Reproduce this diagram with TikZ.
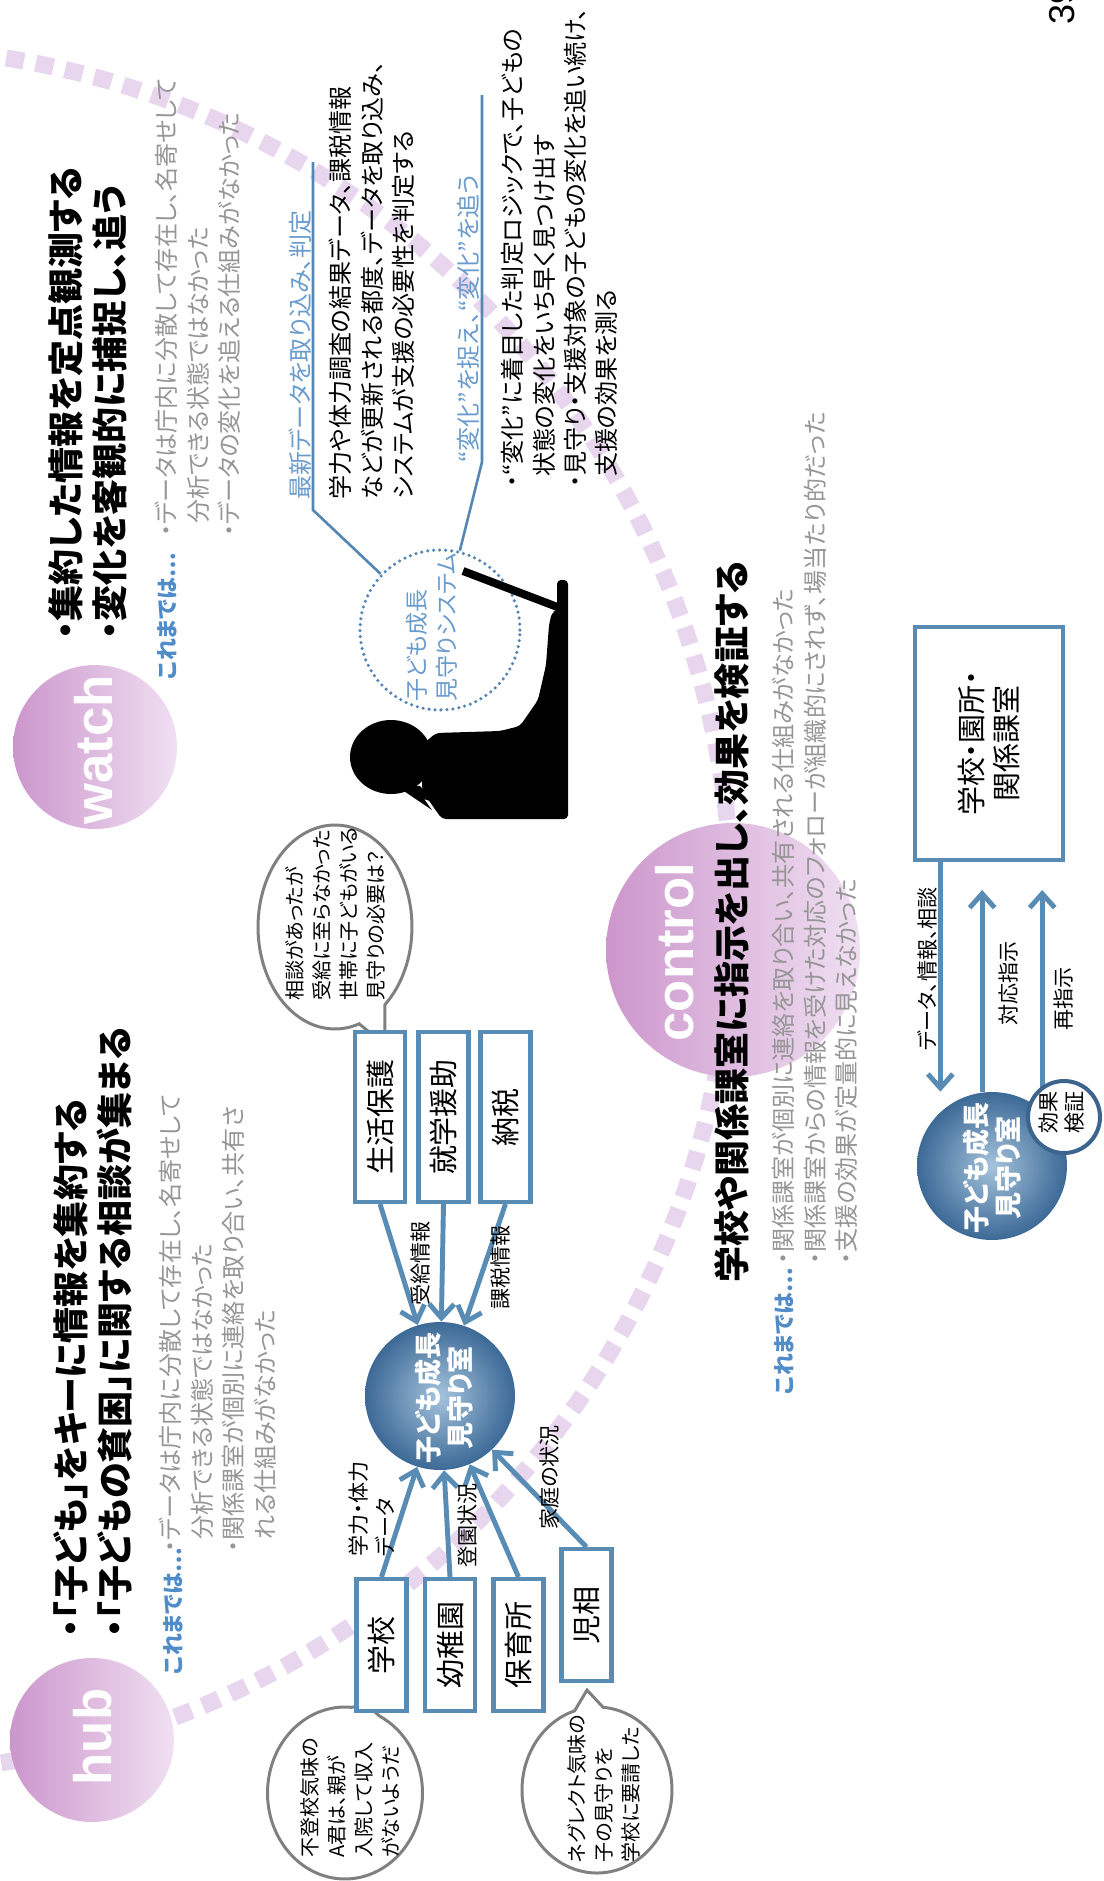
\documentclass[tikz,border=0pt]{standalone}
\usepackage{fontspec}
\setmainfont{Noto Sans CJK JP}[RawFeature=+palt]
\newfontfamily\latinfont{Liberation Sans}
\usetikzlibrary{arrows.meta,calc,shapes.geometric,shapes.callouts}

\definecolor{boxblue}{RGB}{88,140,180}
\definecolor{lineblue}{RGB}{85,135,180}
\definecolor{labelblue}{RGB}{105,155,205}
\definecolor{noteblue}{RGB}{80,140,200}
\definecolor{greytext}{RGB}{150,150,150}
\definecolor{pinkdark}{RGB}{204,150,204}
\definecolor{pinklight}{RGB}{240,224,242}
\definecolor{dashpink}{RGB}{232,214,238}
\definecolor{balldark}{RGB}{60,105,150}
\definecolor{balllight}{RGB}{165,195,220}
\definecolor{bubblegrey}{RGB}{128,128,128}
\definecolor{kkblue}{RGB}{60,100,140}

\newcommand{\fHead}{\bfseries\fontsize{20.5}{25.3}\selectfont}
\newcommand{\fBody}{\fontsize{13.7}{17.9}\selectfont}
\newcommand{\fNote}{\bfseries\fontsize{12.5}{15}\selectfont}
\newcommand{\fLabel}{\fontsize{12}{15.4}\selectfont}
\newcommand{\fBox}{\fontsize{16.5}{20}\selectfont}
\newcommand{\fBubble}{\fontsize{11.4}{15.4}\selectfont}
\newcommand{\fBall}{\bfseries\fontsize{15.4}{18.2}\selectfont}
\newcommand{\fSys}{\fontsize{13.1}{17}\selectfont}
\newcommand{\fKk}{\fontsize{12}{14.8}\selectfont}
\newcommand{\fTag}{\latinfont\bfseries\fontsize{30}{30}\selectfont}

\tikzset{
  rot/.style={rotate=90, inner sep=0pt},
  heading/.style={rot, anchor=north west, align=left, font=\fHead},
  untilnow/.style={rot, anchor=west, text=noteblue, font=\fNote},
  oldtext/.style={rot, anchor=north west, align=left, text=greytext, font=\fBody},
  bodytext/.style={rot, anchor=north west, align=left, font=\fBody},
  calltag/.style={rot, anchor=west, text=labelblue, font=\fBody},
  phase/.style={circle, minimum size=#1, inner sep=0pt, left color=pinkdark, right color=pinklight},
  tag/.style={rot, text=white, font=\fTag},
  srcbox/.style={rot, draw=boxblue, line width=2.3pt, fill=white, font=\fBox, minimum width=#1, minimum height=1cm},
  ball/.style={ellipse, minimum width=3cm, minimum height=2.96cm, inner sep=0pt, inner color=balllight, outer color=balldark},
  balltext/.style={rot, align=center, text=white, font=\fBall},
  flow/.style={draw=boxblue, line width=2.8pt, -{Straight Barb[length=0.28cm,width=0.5cm]}},
  flowlabel/.style={rot, anchor=west, font=\fLabel},
  bubble/.style={ellipse callout, draw=bubblegrey, line width=1.7pt, fill=white, inner sep=0pt, callout pointer arc=22},
  bubbletext/.style={rot, anchor=north west, align=left, font=\fBubble},
  leader/.style={draw=lineblue, line width=1.5pt},
}

\begin{document}
\begin{tikzpicture}[x=0.02cm, y=-0.02cm]
\useasboundingbox (0,0) rectangle (1104,1881);
\clip (0,0) rectangle (1104,1881);

% big dashed ring through hub and control
\draw[dashpink, line width=0.34cm, dash pattern=on 0.36cm off 0.24cm] (-131,910) circle[radius=17.26cm];

% the three phases
\node[phase=3.28cm] (hubC) at (92,1740) {};
\node[phase=3.28cm] (watchC) at (95,747) {};
\node[phase=5.08cm] (ctrlC) at (733,950) {};
\node[tag] (hubT) at (93,1737) {hub};
\node[tag] (watchT) at (94,750) {watch};
\node[tag] (ctrlT) at (675,952) {control};

% headings
\node[heading] (watchH) at (48,640) {・集約した情報を定点観測する\\・変化を客観的に捕捉し、追う};
\node[heading] (hubH) at (53,1638) {・「子ども」をキーに情報を集約する\\・「子どもの貧困」に関する相談が集まる};
\node[heading] (ctrlH) at (714,1283) {学校や関係課室に指示を出し、効果を検証する};

% how it was before
\node[untilnow] (watchN) at (167,680) {これまでは…};
\node[untilnow] (hubN) at (173,1675) {これまでは…};
\node[untilnow] (ctrlN) at (784,1395) {これまでは…};
\node[oldtext] (watchO) at (155,537) {・データは庁内に分散して存在し、名寄せして\\\hspace*{0.55em}分析できる状態ではなかった\\・データの変化を追える仕組みがなかった};
\node[oldtext] (hubO) at (159,1553) {・データは庁内に分散して存在し、名寄せして\\\hspace*{0.55em}分析できる状態ではなかった\\・関係課室が個別に連絡を取り合い、共有さ\\\hspace*{0.55em}れる仕組みがなかった};
\node[oldtext] (ctrlO) at (772,1265) {・関係課室が個別に連絡を取り合い、共有される仕組みがなかった\\・関係課室からの情報を受けた対応のフォローが組織的にされず、場当たり的だった\\・支援の効果が定量的に見えなかった};

% watch: system and its two callouts
\node[circle, draw=lineblue, line width=2pt, dash pattern=on 0pt off 0.12cm, line cap=round, minimum size=3.2cm, inner sep=0pt] (sysC) at (440,630) {};
\node[rot, anchor=north west, align=left, text=labelblue, font=\fSys] (sysT) at (406,702) {子ども成長\\見守りシステム};
\node[calltag] (newTag) at (300,500) {最新データを取り込み、判定};
\node[bodytext] (newBody) at (329,500) {学力や体力調査の結果データ、課税情報\\などが更新される都度、データを取り込み、\\システムが支援の必要性を判定する};
\node[calltag] (chgTag) at (468,463) {“変化”を捉え、“変化”を追う};
\node[bodytext] (chgBody) at (501,488) {・“変化”に着目した判定ロジックで、子どもの\\\hspace*{0.45em}状態の変化をいち早く見つけ出す\\・見守り・支援対象の子どもの変化を追い続け、\\\hspace*{0.45em}支援の効果を測る};
\coordinate (newTop) at (313,162);
\coordinate (newBend) at (313,510);
\coordinate (chgTop) at (482,95);
\coordinate (chgBend) at (482,462);
\draw[leader] (newTop) -- (newBend) -- (sysC);
\draw[leader] (chgTop) -- (chgBend) -- (sysC);

% person at the laptop
\fill (391,757) ellipse[x radius=0.82cm, y radius=0.74cm];
\fill (395,785) -- (432,810) -- (424,799) -- (436,803) -- (420,786) -- cycle;
\fill[rounded corners=0.08cm] (422,745) -- (436,733) -- (500,731) -- (520,726) -- (538,700) -- (546,665) -- (549,625) -- (552,612) -- (557,611) -- (557,580) -- (568,580) -- (568,819) -- (442,819) -- (432,805) -- (422,790) -- cycle;
\draw[line width=0.16cm] (463,571) -- (560,608);

% hub: sources around the office
\node[bubble, minimum width=3.08cm, minimum height=4.08cm, callout absolute pointer={(385,1045)}] (askB) at (335,927) {};
\node[bubbletext] (askT) at (285,1001) {相談があったが\\受給に至らなかった\\世帯に子どもがいる\\見守りの必要は？};
\node[bubble, minimum width=3.1cm, minimum height=3.44cm, callout absolute pointer={(367,1705)}] (absB) at (345,1793) {};
\node[bubbletext] (absT) at (300,1858) {不登校気味の\\A君は、親が\\入院して収入\\がないようだ};
\node[bubble, minimum width=3cm, minimum height=3.32cm, callout absolute pointer={(587,1690)}] (negB) at (597,1790) {};
\node[bubbletext] (negT) at (567,1863) {ネグレクト気味の\\子の見守りを\\学校に要請した};

\node[srcbox=3.4cm] (seiho) at (380,1117) {生活保護};
\node[srcbox=3.4cm] (shugaku) at (443.5,1117) {就学援助};
\node[srcbox=3.4cm] (nozei) at (505.5,1117) {納税};
\node[srcbox=2.64cm] (gakko) at (381.5,1645) {学校};
\node[srcbox=2.64cm] (yochien) at (450,1645) {幼稚園};
\node[srcbox=2.64cm] (hoiku) at (518.5,1645) {保育所};
\node[srcbox=2.64cm] (jiso) at (586.5,1615) {児相};

\node[ball] (hubS) at (440,1396) {};
\node[balltext] (hubST) at (444,1398) {子ども成長\\見守り室};

\draw[flow] (seiho.west) -- (hubS);
\draw[flow] (shugaku.west) -- (hubS);
\draw[flow] (nozei.west) -- (hubS);
\draw[flow] (gakko.east) -- (hubS);
\draw[flow] (yochien.east) -- (hubS);
\draw[flow] (hoiku.east) -- (hubS);
\draw[flow] (jiso.east) -- (hubS);

\node[flowlabel] (lblJukyu) at (420,1306) {受給情報};
\node[flowlabel] (lblKazei) at (500,1310) {課税情報};
\node[rot, anchor=north west, align=left, font=\fLabel] (lblGaku) at (348,1557) {学力・体力\\データ};
\node[flowlabel] (lblToen) at (467,1568) {登園状況};
\node[flowlabel] (lblKatei) at (550,1530) {家庭の状況};

% control: office, schools and the feedback loop
\node[rot, draw=boxblue, line width=2.3pt, fill=white, font=\fBox, align=center, minimum width=4.66cm, minimum height=2.96cm] (gk) at (989,743.5) {学校・園所・\\関係課室};
\node[ball] (ctrlS) at (992,1166) {};
\node[balltext] (ctrlST) at (992,1168) {子ども成長\\見守り室};

\coordinate (dIn) at ($(gk.north west)!0.18!(gk.south west)$);
\coordinate (rIn) at ($(gk.north west)!0.455!(gk.south west)$);
\coordinate (rrIn) at ($(gk.north west)!0.85!(gk.south west)$);
\draw[flow] (dIn) -- (dIn |- ctrlS.north);
\draw[flow] (rIn |- ctrlS.north) -- ([yshift=-0.56cm]rIn);
\draw[flow] (rrIn |- ctrlS.north) -- ([yshift=-0.56cm]rrIn);

\node[circle, draw=kkblue, line width=2.3pt, fill=white, minimum size=1.44cm, inner sep=0pt] (kk) at (1064,1117) {};
\node[rot, align=center, font=\fKk] (kkT) at (1062,1112) {効果\\検証};

\node[flowlabel] (lblData) at (927,1051) {データ、情報、相談};
\node[flowlabel] (lblTaio) at (1008,1026) {対応指示};
\node[flowlabel] (lblSai) at (1064,1031) {再指示};

\node[rot, font=\latinfont\fontsize{20.5}{20.5}\selectfont] (pageNo) at (1062,4) {39};
\end{tikzpicture}
\end{document}
